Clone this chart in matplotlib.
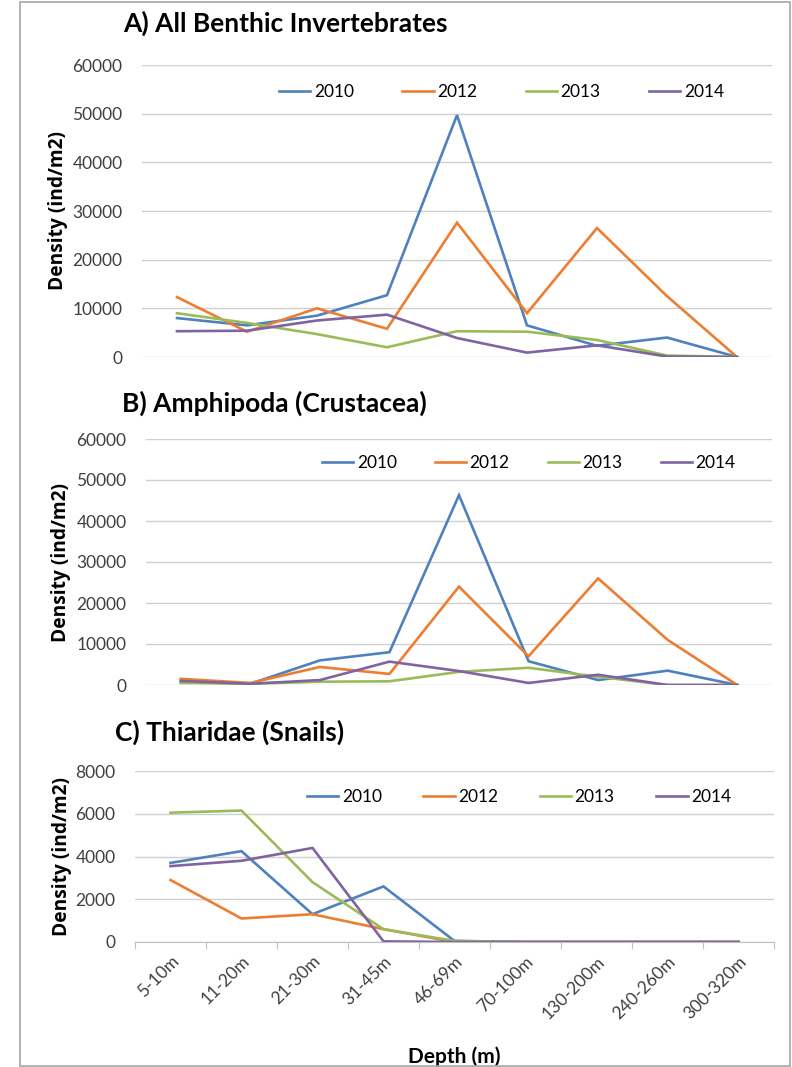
import matplotlib
matplotlib.use("Agg")
import matplotlib.pyplot as plt
from matplotlib.patches import Rectangle

plt.rcParams['font.family'] = ['Lato', 'DejaVu Sans']

depths = ["5-10m", "11-20m", "21-30m", "31-45m", "46-69m", "70-100m",
          "130-200m", "240-260m", "300-320m"]
years = ["2010", "2012", "2013", "2014"]
colors = ["#4F81BD", "#ED7D31", "#9BBB59", "#8064A2"]

# A) All benthic invertebrates
a_2010 = [8000, 6500, 8500, 12700, 49700, 6500, 2300, 4000, 0]
a_2012 = [12300, 5200, 10000, 5800, 27600, 9000, 26500, 12500, 0]
a_2013 = [9000, 7000, 4700, 2000, 5300, 5200, 3500, 300, 0]
a_2014 = [5300, 5400, 7500, 8700, 3900, 900, 2400, 100, 0]

# B) Amphipoda
b_2010 = [800, 300, 6000, 8000, 46300, 5800, 1200, 3500, 0]
b_2012 = [1500, 500, 4400, 2700, 24000, 7000, 26000, 11000, 0]
b_2013 = [500, 300, 800, 900, 3200, 4200, 2000, 0, 0]
b_2014 = [1000, 300, 1200, 5700, 3400, 500, 2500, 0, 0]

# C) Thiaridae
c_2010 = [3700, 4250, 1300, 2600, 50, 0, 0, 0, 0]
c_2012 = [2900, 1100, 1300, 600, 0, 0, 0, 0, 0]
c_2013 = [6050, 6150, 2800, 600, 50, 0, 0, 0, 0]
c_2014 = [3550, 3800, 4400, 30, 0, 0, 0, 0, 0]

panels = [
    ("A) All Benthic Invertebrates", [a_2010, a_2012, a_2013, a_2014], 60000, 10000),
    ("B) Amphipoda (Crustacea)", [b_2010, b_2012, b_2013, b_2014], 60000, 10000),
    ("C) Thiaridae (Snails)", [c_2010, c_2012, c_2013, c_2014], 8000, 2000),
]

W, H = 792, 1067
fig = plt.figure(figsize=(W / 100, H / 100), dpi=100)

def fx(px):
    return px / W

def fy(py):
    return 1 - py / H

# outer border
fig.patches.append(Rectangle((fx(20), fy(1066)), fx(790) - fx(20), fy(2) - fy(1066),
                             transform=fig.transFigure, fill=False,
                             edgecolor="#A6A6A6", linewidth=1.2))

# axes boxes (left, right, top, bottom in pixels)
boxes = [(142, 772, 65, 357), (146, 772, 439, 685), (135, 774, 771, 942)]
title_pos = [(123, 23), (122, 403), (115, 732)]
legend_pos = [(279, 92), (322, 463), (307, 797)]
legend_spacing = [2.8, 2.2, 2.4]
ylabel_x = [58, 61, 62]

x = list(range(len(depths)))
for i, (title, series, ymax, ystep) in enumerate(panels):
    l, r, t, b = boxes[i]
    ax = fig.add_axes([fx(l), fy(b), fx(r) - fx(l), fy(t) - fy(b)])
    lines = []
    for s, c, yr in zip(series, colors, years):
        ln, = ax.plot(x, s, color=c, linewidth=1.9, label=yr, solid_joinstyle='miter')
        lines.append(ln)
    ax.set_xlim(-0.5, len(depths) - 0.5)
    ax.set_ylim(0, ymax)
    ax.set_yticks(range(0, ymax + 1, ystep))
    ax.set_yticklabels([str(v) for v in range(0, ymax + 1, ystep)],
                       fontsize=12.5, color="#404040")
    ax.grid(axis='y', color="#D0D0D0", linewidth=1.0)
    ax.set_axisbelow(True)
    for sp in ["top", "right", "left"]:
        ax.spines[sp].set_visible(False)
    ax.tick_params(axis='y', length=0, pad=14)
    if i < 2:
        ax.spines["bottom"].set_visible(False)
        ax.set_xticks([])
    else:
        ax.spines["bottom"].set_color("#BFBFBF")
        ax.set_xticks([k - 0.5 for k in range(len(depths) + 1)], minor=False)
        ax.set_xticklabels([])
        ax.tick_params(axis='x', length=5, color="#BFBFBF", direction='out')
        ax.set_xticks(x, minor=True)
        ax.set_xticklabels(depths, minor=True, rotation=45, ha='right',
                           rotation_mode='anchor', fontsize=12.5, color="#404040")
        ax.tick_params(axis='x', which='minor', length=0, pad=8)
        ax.set_xlabel("Depth (m)", fontsize=15, fontweight='bold', labelpad=18)
    fig.text(fx(ylabel_x[i]), (fy(t) + fy(b)) / 2, "Density (ind/m2)", rotation=90,
             ha='center', va='center', fontsize=13.8, fontweight='bold',
             family=['Open Sans', 'DejaVu Sans'])
    tx, ty = title_pos[i]
    fig.text(fx(tx), fy(ty), title, ha='left', va='center', fontsize=19,
             fontweight='bold')
    lx, ly = legend_pos[i]
    fig.legend(handles=lines, loc='center left', bbox_to_anchor=(fx(lx), fy(ly)),
               ncol=4, frameon=False, fontsize=12.5, handlelength=1.8,
               handletextpad=0.2, columnspacing=legend_spacing[i], borderaxespad=0,
               borderpad=0)

fig.savefig("out.png", dpi=100)
